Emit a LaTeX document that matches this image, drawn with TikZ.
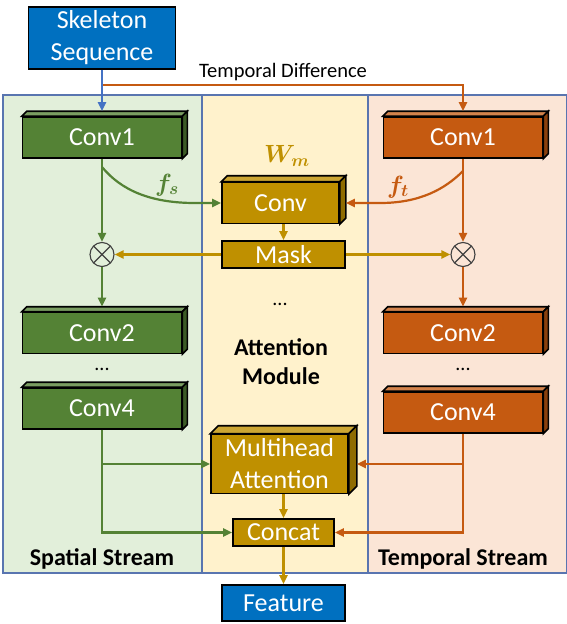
\documentclass[tikz,border=0pt]{standalone}
\usepackage{bm}
\usepackage{fontspec}
\setmainfont{Carlito}
\usepackage{tikz}
\usetikzlibrary{arrows.meta,calc}
\definecolor{seqblue}{HTML}{0070C0}
\definecolor{linkblue}{HTML}{4472C4}
\definecolor{spgreen}{HTML}{548235}
\definecolor{tporange}{HTML}{C55A11}
\definecolor{atgold}{HTML}{BF9000}
\definecolor{panelline}{HTML}{5975B0}
\definecolor{spfill}{HTML}{E2EFDA}
\definecolor{atfill}{HTML}{FFF2CC}
\definecolor{tpfill}{HTML}{FBE5D6}
\tikzset{
  panel/.style    = {draw=panelline, line width=1.3pt},
  block/.style    = {draw=black, line width=1.6pt, text=white, inner sep=0pt,
                     font=\fontsize{26}{32}\selectfont},
  spbox/.style    = {block, fill=spgreen, minimum width=159pt, minimum height=41pt},
  tpbox/.style    = {block, fill=tporange, minimum width=159pt, minimum height=41pt},
  atbox/.style    = {block, fill=atgold},
  iobox/.style    = {block, fill=seqblue, align=center},
  mult/.style     = {circle, draw=black!75, line width=1.1pt, minimum size=24pt, inner sep=0pt,
                     path picture={\draw[black!75, line width=1.1pt]
                       (path picture bounding box.north west) -- (path picture bounding box.south east)
                       (path picture bounding box.south west) -- (path picture bounding box.north east);}},
  link/.style     = {line width=2.2pt, -{Triangle[length=9pt,width=8pt]}},
  tdtag/.style    = {font=\fontsize{20.5}{24}\selectfont, inner sep=0pt},
  streamname/.style = {font=\fontsize{24}{29}\selectfont\bfseries, inner sep=0pt, align=center},
  mathtag/.style  = {font=\fontsize{27}{30}\selectfont, inner sep=0pt},
  gap/.style      = {font=\fontsize{20}{24}\selectfont, inner sep=0pt}
}
\newcommand{\slab}[4]{%
  \draw[line width=1.6pt, fill=#3] (#1.north west) -- ++(#2,-#2)
       -- ($(#1.north east)+(#2,-#2)$) -- (#1.north east) -- cycle;
  \draw[line width=1.6pt, fill=#4] (#1.north east) -- ($(#1.north east)+(#2,-#2)$)
       -- ($(#1.south east)+(#2,-#2)$) -- (#1.south east) -- cycle;}

\begin{document}
\begin{tikzpicture}[x=1pt,y=-1pt]
  \useasboundingbox (0,0) rectangle (567,624);
  \draw[panel, fill=spfill] (3,95) rectangle (202,573);
  \draw[panel, fill=atfill] (202,95) rectangle (368,573);
  \draw[panel, fill=tpfill] (368,95) rectangle (566.3,573);

  \node[iobox, minimum width=147pt, minimum height=62pt] (seq) at (102,38) {Skeleton\\Sequence};
  \node[spbox] (conv1s) at (102,137.5) {Conv1};
  \node[spbox] (conv2s) at (102,333) {Conv2};
  \node[spbox] (conv4s) at (102,408.5) {Conv4};
  \node[tpbox] (conv1t) at (463,137.5) {Conv1};
  \node[tpbox] (conv2t) at (463,333) {Conv2};
  \node[tpbox] (conv4t) at (463,412.5) {Conv4};
  \foreach \n in {conv1s,conv2s,conv4s} { \slab{\n}{5}{spgreen!78!white}{spgreen!70!black} }
  \foreach \n in {conv1t,conv2t,conv4t} { \slab{\n}{5}{tporange!75!white}{tporange!70!black} }

  \node[atbox, minimum width=117pt, minimum height=41pt] (convm) at (280.5,203) {Conv};
  \slab{convm}{6}{atgold!80!white}{atgold!75!black}
  \node[atbox, minimum width=123pt, minimum height=27pt] (mask) at (283.5,254.5) {Mask};
  \node[atbox, minimum width=137pt, minimum height=59pt, align=center] (mha) at (279.5,464)
        {Multihead\\Attention};
  \slab{mha}{8}{atgold!80!white}{atgold!75!black}
  \node[atbox, minimum width=101pt, minimum height=27pt] (concat) at (283.5,532.5) {Concat};
  \node[iobox, minimum width=123pt, minimum height=36pt] (feat) at (283.5,603) {Feature};

  \node[mult] (mulS) at (102,254.5) {};
  \node[mult] (mulT) at (463,254.5) {};

  \node[tdtag] (tdname) at (283,72) {Temporal Difference};
  \node[streamname] (spname) at (102,559) {Spatial Stream};
  \node[streamname] (tpname) at (463,559) {Temporal Stream};
  \node[streamname] (atname) at (281,362) {Attention\\Module};
  \node[mathtag, text=atgold] (wm) at (287,156) {$\bm{W_m}$};
  \node[mathtag, text=spgreen] (fs) at (167,185) {$\bm{f_s}$};
  \node[mathtag, text=tporange] (ft) at (398,187) {$\bm{f_t}$};
  \node[gap] (gapS) at (102,369) {...};
  \node[gap] (gapT) at (463,369) {...};
  \node[gap] (gapM) at (280,304) {...};

  \coordinate (tdy) at (0,85);
  \draw[link, tporange] (seq.south |- tdy) -| ([yshift=5pt]conv1t.north);
  \draw[link, linkblue] (seq.south) -- ([yshift=5pt]conv1s.north);

  \draw[link, spgreen] (conv1s.south) -- (mulS.north);
  \draw[link, spgreen] (mulS.south) -- ([yshift=5pt]conv2s.north);
  \coordinate (fsfrom) at (102,167);
  \coordinate (fsbend) at (195,203);
  \draw[link, spgreen] (fsfrom) .. controls +(19,23) and +(-45,0) .. (fsbend) -- (convm.west);

  \draw[link, tporange] (conv1t.south) -- (mulT.north);
  \draw[link, tporange] (mulT.south) -- ([yshift=5pt]conv2t.north);
  \coordinate (ftfrom) at (463,171);
  \coordinate (ftbend) at (380,203);
  \draw[link, tporange] (ftfrom) .. controls +(-18,18) and +(40,0) .. (ftbend)
        -- ([xshift=6pt]convm.east);

  \draw[link, atgold] (convm.south -| mask.north) -- (mask.north);
  \draw[link, atgold] (mask.west) -- (mulS.east);
  \draw[link, atgold] (mask.east) -- (mulT.west);

  \draw[link, spgreen] (conv4s.south) |- (concat.west);
  \draw[link, spgreen] (conv4s.south |- mha.west) -- (mha.west);
  \draw[link, tporange] (conv4t.south) |- (concat.east);
  \draw[link, tporange] (conv4t.south |- mha.east) -- ([xshift=8pt]mha.east);
  \draw[link, atgold] (mha.south -| concat.north) -- (concat.north);
  \draw[link, atgold] (concat.south) -- (feat.north);
\end{tikzpicture}
\end{document}
